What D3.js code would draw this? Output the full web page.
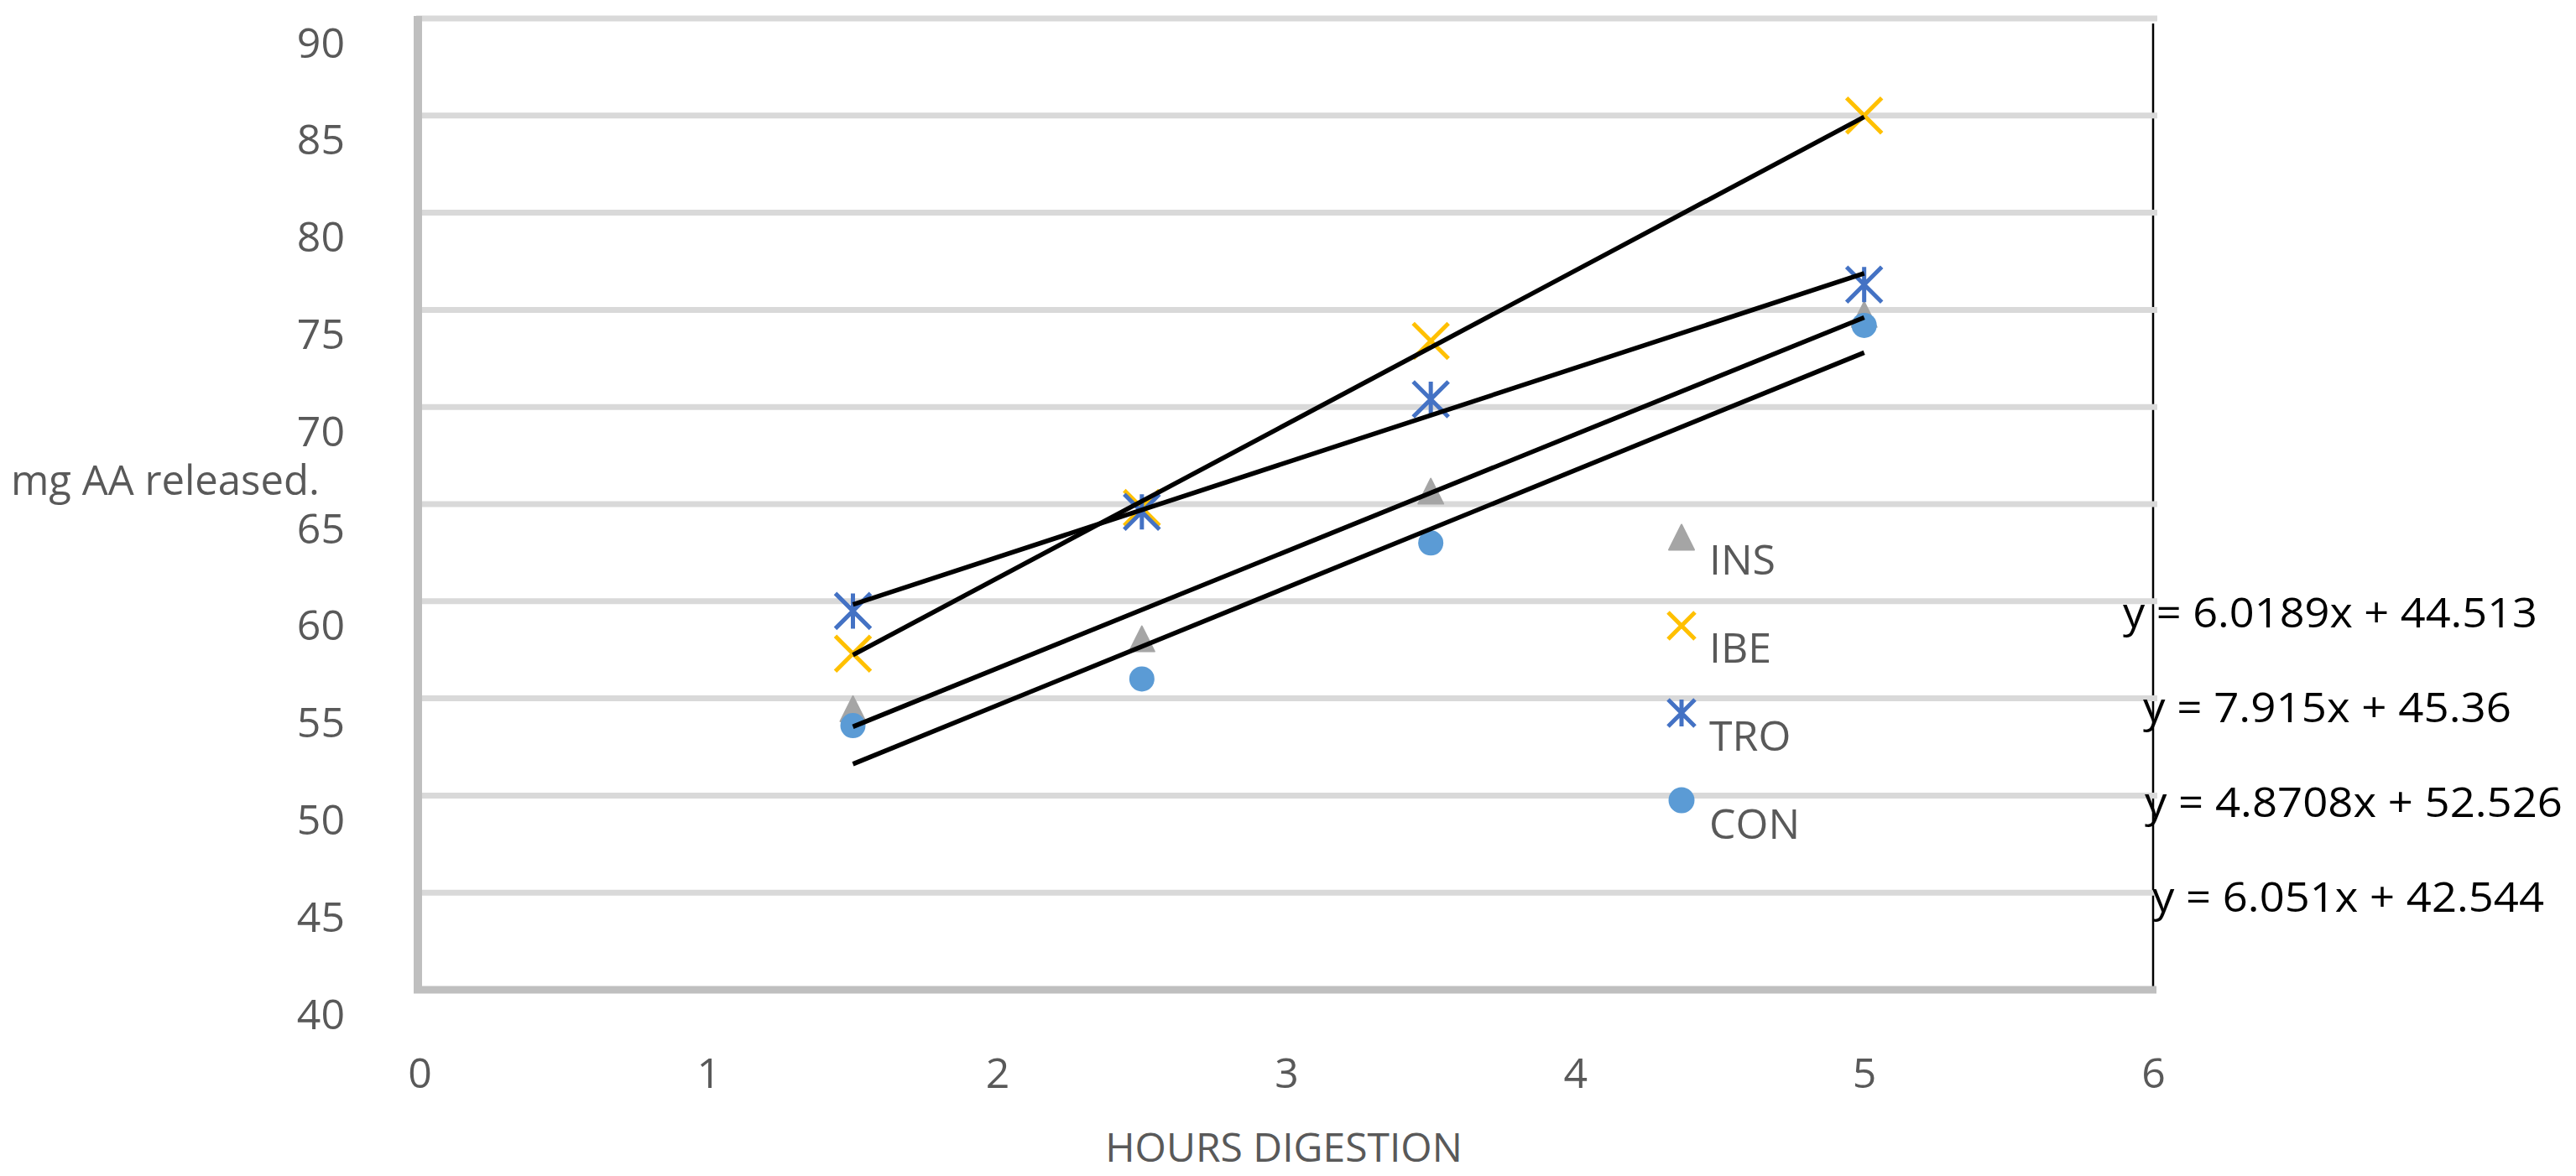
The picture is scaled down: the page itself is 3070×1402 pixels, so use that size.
<!DOCTYPE html>
<html>
<head>
<meta charset="utf-8">
<script src="https://cdn.jsdelivr.net/npm/d3@7"></script>
<style>
body { margin: 0; background: #fff; }
text { font-family: "Open Sans", sans-serif; }
</style>
</head>
<body>
<svg id="chart" width="3070" height="1402"></svg>
<script>
// values
var hours = [1.5, 2.5, 3.5, 5];
var seriesNames = ["INS", "IBE", "TRO", "CON"];
var insValues = [54.4, 58.0, 65.6, 74.7];
var ibeValues = [57.3, 64.8, 73.4, 85.0];
var troValues = [59.5, 64.6, 70.4, 76.3];
var conValues = [53.6, 56.0, 63.0, 74.2];
var trendSlopes = [6.0189, 7.915, 4.8708, 6.051];
var trendIntercepts = [44.513, 45.36, 52.526, 42.544];
var trendLabels = ["y = 6.0189x + 44.513", "y = 7.915x + 45.36", "y = 4.8708x + 52.526", "y = 6.051x + 42.544"];
var xTicks = [0, 1, 2, 3, 4, 5, 6];
var yTicks = [40, 45, 50, 55, 60, 65, 70, 75, 80, 85, 90];

var seriesValues = [insValues, ibeValues, troValues, conValues];
var seriesColors = ["#a5a5a5", "#ffc000", "#4472c4", "#5b9bd5"];
var seriesShapes = ["triangle", "times", "star", "circle"];

var svg = d3.select("#chart");
var textGray = "#595959";

var x = d3.scaleLinear().domain([0, 6]).range([500, 2566]);
var y = d3.scaleLinear().domain([40, 90]).range([1180, 22]);

// marker shapes, Excel style
function timesPath(h) {
	return "M" + (-h) + "," + (-h) + "L" + h + "," + h + "M" + (-h) + "," + h + "L" + h + "," + (-h);
}
function starPath(h) {
	return timesPath(h) + "M0," + (-h) + "L0," + h;
}
function trianglePath(w) {
	return "M0," + (-w * 0.55) + "L" + (w / 2) + "," + (w * 0.45) + "L" + (-w / 2) + "," + (w * 0.45) + "Z";
}

function drawMarker(g, shape, color, size) {
	if (shape == "circle") {
		g.append("circle").attr("r", size / 2).attr("fill", color);
	} else if (shape == "triangle") {
		g.append("path").attr("d", trianglePath(size))
			.attr("fill", color).attr("stroke", color)
			.attr("stroke-width", 2).attr("stroke-linejoin", "round");
	} else {
		var d = shape == "star" ? starPath(size / 2) : timesPath(size / 2);
		g.append("path").attr("d", d)
			.attr("fill", "none").attr("stroke", color)
			.attr("stroke-width", 5);
	}
}

// right border line (sits under the gridlines)
svg.append("line")
	.attr("x1", x(6)).attr("x2", x(6))
	.attr("y1", y(90) + 6).attr("y2", y(40))
	.attr("stroke", "#000").attr("stroke-width", 2.5);

// gridlines
svg.append("g").selectAll("line")
	.data(yTicks.filter(function(v){ return v > 40; }))
	.enter().append("line")
	.attr("x1", x(0) - 4).attr("x2", x(6) + 5)
	.attr("y1", function(d){ return y(d); })
	.attr("y2", function(d){ return y(d); })
	.attr("stroke", "#d9d9d9").attr("stroke-width", 7);

// axis lines
svg.append("line")
	.attr("x1", x(0) - 2).attr("x2", x(0) - 2)
	.attr("y1", y(90) - 3).attr("y2", y(40) + 4)
	.attr("stroke", "#bfbfbf").attr("stroke-width", 10);
svg.append("line")
	.attr("x1", x(0) - 7).attr("x2", x(6) + 4)
	.attr("y1", y(40)).attr("y2", y(40))
	.attr("stroke", "#bfbfbf").attr("stroke-width", 9);

// tick labels
var yAxis = svg.append("g")
	.attr("transform", "translate(498,0)")
	.call(d3.axisLeft(y).tickValues(yTicks).tickSize(0).tickPadding(87).tickFormat(d3.format("d")));
yAxis.select(".domain").remove();
yAxis.attr("font-family", "Open Sans, sans-serif").attr("font-size", 50).attr("color", textGray);
yAxis.selectAll("text").attr("dy", 46);

var xAxis = svg.append("g")
	.attr("transform", "translate(0," + y(40) + ")")
	.call(d3.axisBottom(x).tickValues(xTicks).tickSize(0).tickFormat(d3.format("d")));
xAxis.select(".domain").remove();
xAxis.attr("font-family", "Open Sans, sans-serif").attr("font-size", 50).attr("color", textGray);
xAxis.selectAll("text").attr("y", 117).attr("dy", 0);

// points
seriesValues.forEach(function(vals, s) {
	var size = seriesShapes[s] == "circle" ? 30 : (seriesShapes[s] == "triangle" ? 30 : 42);
	vals.forEach(function(v, i) {
		var g = svg.append("g").attr("transform", "translate(" + x(hours[i]) + "," + y(v) + ")");
		drawMarker(g, seriesShapes[s], seriesColors[s], size);
	});
});

// linear trend lines
var x0 = d3.min(hours), x1 = d3.max(hours);
svg.append("g").selectAll("line")
	.data(trendSlopes)
	.enter().append("line")
	.attr("x1", x(x0)).attr("x2", x(x1))
	.attr("y1", function(d, i){ return y(d * x0 + trendIntercepts[i]); })
	.attr("y2", function(d, i){ return y(d * x1 + trendIntercepts[i]); })
	.attr("stroke", "#000").attr("stroke-width", 5.5);

// legend
var legend = svg.append("g");
seriesNames.forEach(function(name, i) {
	var g = legend.append("g").attr("transform", "translate(2004," + (642 + i * 104) + ")");
	drawMarker(g, seriesShapes[i], seriesColors[i], seriesShapes[i] == "circle" ? 31 : (seriesShapes[i] == "triangle" ? 30 : 32));
	legend.append("text")
		.attr("x", 2037).attr("y", 685 + i * 105)
		.attr("font-size", 50).attr("fill", textGray)
		.text(name);
});

// equations
var eqLeft = [2530, 2554, 2556, 2565];
var eqWidth = [494, 439, 498, 467];
svg.append("g").selectAll("text")
	.data(trendLabels)
	.enter().append("text")
	.attr("x", function(d, i){ return eqLeft[i]; })
	.attr("y", function(d, i){ return 748 + i * 113; })
	.attr("font-size", 50)
	.attr("textLength", function(d, i){ return eqWidth[i]; })
	.attr("lengthAdjust", "spacingAndGlyphs")
	.attr("fill", "#000")
	.text(function(d){ return d; });

// axis titles
svg.append("text")
	.attr("x", 13).attr("y", 590)
	.attr("font-size", 49).attr("fill", textGray)
	.text("mg AA released.");

svg.append("text")
	.attr("x", 1530).attr("y", 1385)
	.attr("text-anchor", "middle")
	.attr("font-size", 48).attr("fill", textGray)
	.text("HOURS DIGESTION");
</script>
</body>
</html>
